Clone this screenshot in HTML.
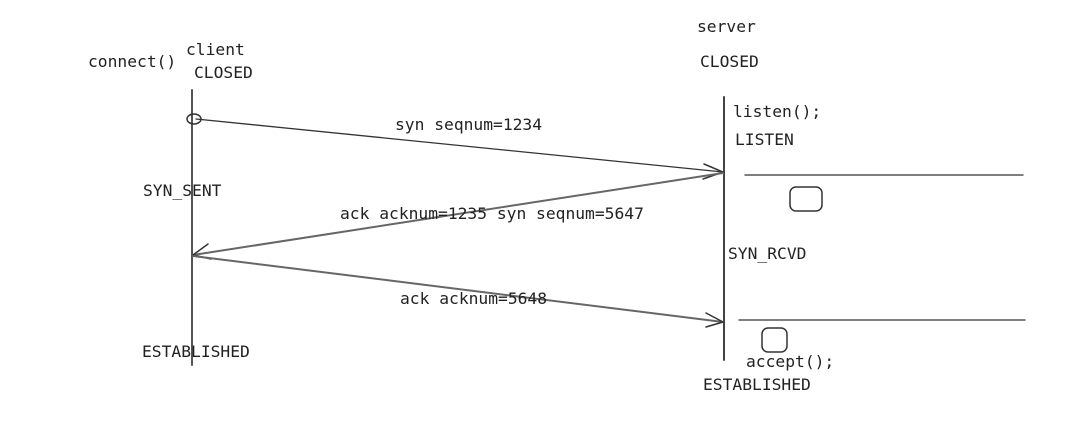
<!DOCTYPE html>
<html><head><meta charset="utf-8"><style>
html,body{margin:0;padding:0;background:#fff;}
svg text{font-family:"DejaVu Sans Mono","Liberation Mono",monospace;font-size:16.3px;fill:#222;}
</style></head><body>
<svg width="1078" height="419" viewBox="0 0 1078 419" xmlns="http://www.w3.org/2000/svg">
<rect width="1078" height="419" fill="#fff"/>
<g stroke="#333" fill="none" stroke-linecap="round">
<line x1="192" y1="90" x2="192" y2="365" stroke-width="2" stroke="#555"/>
<line x1="724" y1="97" x2="724" y2="360" stroke-width="2" stroke="#444"/>
<ellipse cx="194" cy="119" rx="7" ry="5" stroke-width="1.5"/>
<line x1="196" y1="119" x2="723" y2="172" stroke-width="1.3"/>
<path d="M704 164 L723 172 L703 179" stroke-width="1.5"/>
<line x1="723" y1="173" x2="193" y2="255" stroke-width="2" stroke="#666"/>
<path d="M208 244 L193 255 L211 259" stroke-width="1.5"/>
<line x1="193" y1="256" x2="723" y2="322" stroke-width="2" stroke="#666"/>
<path d="M706 313 L723 322 L706 327" stroke-width="1.5"/>
<line x1="745" y1="175" x2="1023" y2="175" stroke-width="1.3"/>
<line x1="739" y1="320" x2="1025" y2="320" stroke-width="1.3"/>
<rect x="790" y="187" width="32" height="24" rx="6" stroke-width="1.5"/>
<rect x="762" y="328" width="25" height="24" rx="6" stroke-width="1.5"/>
</g>
<text x="88" y="67">connect()</text>
<text x="186" y="55">client</text>
<text x="194" y="78">CLOSED</text>
<text x="697" y="32">server</text>
<text x="700" y="67">CLOSED</text>
<text x="733" y="117">listen();</text>
<text x="735" y="145">LISTEN</text>
<text x="395" y="130">syn seqnum=1234</text>
<text x="143" y="196">SYN_SENT</text>
<text x="340" y="219">ack acknum=1235 syn seqnum=5647</text>
<text x="728" y="259">SYN_RCVD</text>
<text x="400" y="304">ack acknum=5648</text>
<text x="142" y="357">ESTABLISHED</text>
<text x="746" y="367">accept();</text>
<text x="703" y="390">ESTABLISHED</text>
</svg>
</body></html>
